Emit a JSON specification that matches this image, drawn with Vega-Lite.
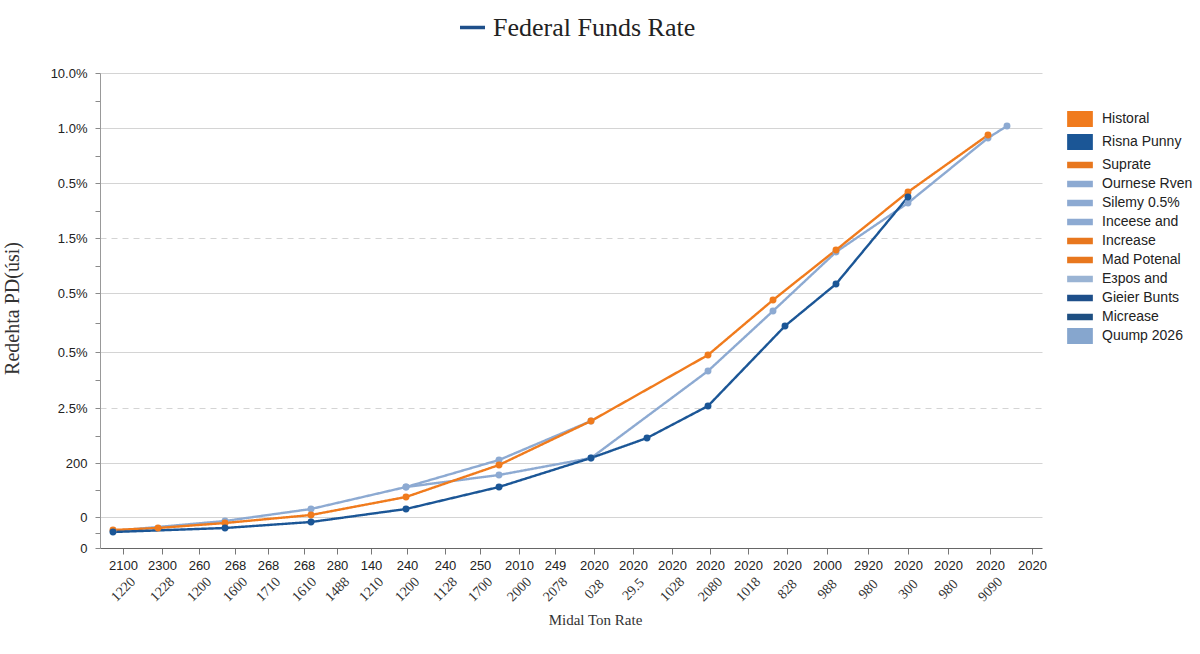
{
  "$schema": "https://vega.github.io/schema/vega-lite/v6.json",
  "width": 942,
  "height": 475,
  "autosize": "none",
  "padding": {"left": 100, "top": 73, "right": 158, "bottom": 106},
  "background": "white",
  "data": {
    "values": [
      {"series": "Ournese Rven", "x": 13, "y": 17},
      {"series": "Ournese Rven", "x": 125, "y": 27},
      {"series": "Ournese Rven", "x": 211, "y": 39},
      {"series": "Ournese Rven", "x": 306, "y": 61},
      {"series": "Ournese Rven", "x": 399, "y": 88},
      {"series": "Ournese Rven", "x": 491, "y": 127},
      {"series": "Silemy 0.5%", "x": 306, "y": 61},
      {"series": "Silemy 0.5%", "x": 399, "y": 73},
      {"series": "Silemy 0.5%", "x": 491, "y": 90},
      {"series": "Silemy 0.5%", "x": 608, "y": 177},
      {"series": "Silemy 0.5%", "x": 673, "y": 237},
      {"series": "Silemy 0.5%", "x": 736, "y": 296},
      {"series": "Silemy 0.5%", "x": 808, "y": 345},
      {"series": "Silemy 0.5%", "x": 888, "y": 410},
      {"series": "Silemy 0.5%", "x": 907, "y": 422},
      {"series": "Historal", "x": 13, "y": 18},
      {"series": "Historal", "x": 58, "y": 20},
      {"series": "Historal", "x": 125, "y": 25},
      {"series": "Historal", "x": 211, "y": 33},
      {"series": "Historal", "x": 306, "y": 51},
      {"series": "Historal", "x": 399, "y": 83},
      {"series": "Historal", "x": 491, "y": 127},
      {"series": "Historal", "x": 608, "y": 193},
      {"series": "Historal", "x": 673, "y": 248},
      {"series": "Historal", "x": 736, "y": 298},
      {"series": "Historal", "x": 808, "y": 356},
      {"series": "Historal", "x": 888, "y": 413},
      {"series": "Risna Punny", "x": 13, "y": 16},
      {"series": "Risna Punny", "x": 125, "y": 20},
      {"series": "Risna Punny", "x": 211, "y": 26},
      {"series": "Risna Punny", "x": 306, "y": 39},
      {"series": "Risna Punny", "x": 399, "y": 61},
      {"series": "Risna Punny", "x": 491, "y": 90},
      {"series": "Risna Punny", "x": 547, "y": 110},
      {"series": "Risna Punny", "x": 608, "y": 142},
      {"series": "Risna Punny", "x": 685, "y": 222},
      {"series": "Risna Punny", "x": 736, "y": 264},
      {"series": "Risna Punny", "x": 808, "y": 351}
    ]
  },
  "encoding": {
    "y": {
      "field": "y",
      "type": "quantitative",
      "scale": {"domain": [0, 475], "nice": false, "zero": false},
      "axis": {
        "values": [0, 15, 31, 58, 85, 112, 140, 168, 196, 225, 255, 282, 310, 337, 365, 392, 420, 447, 475],
        "labelExpr": "indexof([0,31,85,140,196,255,310,365,420,475], datum.value) < 0 ? '' : ['0','0','200','2.5%','0.5%','0.5%','1.5%','0.5%','1.0%','10.0%'][indexof([0,31,85,140,196,255,310,365,420,475], datum.value)]",
        "grid": true,
        "gridColor": "#d4d4d4",
        "gridOpacity": {"condition": {"test": "indexof([31,85,140,196,255,310,365,420,475], datum.value) < 0", "value": 0}, "value": 1},
        "gridDash": {"condition": {"test": "datum.value == 140 || datum.value == 310", "value": [6, 5]}, "value": []},
        "tickSize": 5,
        "tickColor": "#8a8a8a",
        "domainColor": "#999999",
        "labelPadding": 8,
        "labelOverlap": false,
        "labelBound": false,
        "title": "Redehta PD(úsi)",
        "titleX": -88,
        "titleY": 235,
        "titleAngle": -90,
        "titleAlign": "center",
        "titleBaseline": "middle",
        "titleFontSize": 20
      }
    },
    "color": {
      "field": "series",
      "type": "nominal",
      "scale": {
        "domain": ["Historal", "Risna Punny", "Suprate", "Ournese Rven", "Silemy 0.5%", "Inceese and", "Increase", "Mad Potenal", "Eзpos and", "Gieier Bunts", "Micrease", "Quump 2026"],
        "range": ["#F07B1D", "#1B5696", "#E8771E", "#8DAAD2", "#8DAAD2", "#8DAAD2", "#E8771E", "#E8771E", "#9AB4D4", "#1E4F8A", "#1E4F82", "#86A6CE"]
      },
      "legend": {
        "title": null,
        "orient": "none",
        "legendX": 968,
        "legendY": 34,
        "labelFont": "Liberation Sans",
        "labelFontSize": 14,
        "labelColor": "#222222",
        "symbolSize": 484,
        "rowPadding": 0,
        "labelOffset": 10,
        "encode": {
          "symbols": {
            "update": {
              "shape": {"signal": "indexof(['Historal','Risna Punny','Quump 2026'], datum.value) >= 0 ? 'M-1.1,-0.65H1.1V0.65H-1.1Z' : 'M-1.1,-0.22H1.1V0.22H-1.1Z'"},
              "fill": {"scale": "color", "field": "value"},
              "stroke": {"value": "transparent"},
              "opacity": {"value": 1}
            }
          }
        }
      }
    }
  },
  "layer": [
    {
      "mark": {"type": "line", "strokeWidth": 2.4},
      "encoding": {
        "x": {
          "field": "x",
          "type": "quantitative",
          "scale": {"domain": [0, 942], "nice": false, "zero": false},
          "axis": {
            "orient": "bottom",
            "values": [23, 62, 99, 135, 168, 204, 237, 271, 307, 345, 380, 419, 455, 494, 533, 572, 610, 648, 687, 727, 768, 808, 848, 890, 932],
            "labelExpr": "['2100','2300','260','268','268','268','280','140','240','240','250','2010','249','2020','2020','2020','2020','2020','2020','2000','2920','2020','2020','2020','2020'][indexof([23,62,99,135,168,204,237,271,307,345,380,419,455,494,533,572,610,648,687,727,768,808,848,890,932], datum.value)]",
            "grid": false,
            "tickSize": 6,
            "tickColor": "#777777",
            "domainColor": "#666666",
            "domainWidth": 1.2,
            "labelPadding": 5,
            "labelOverlap": false,
            "labelFlush": false,
            "labelBound": false,
            "title": null
          }
        },
        "strokeDash": {
          "datum": "Federal Funds Rate",
          "type": "nominal",
          "scale": {"range": [[1, 0]]},
          "legend": {
            "title": null,
            "orient": "none",
            "legendX": 358,
            "legendY": -60,
            "labelFont": "Liberation Serif",
            "labelFontSize": 26,
            "labelColor": "#222222",
            "labelLimit": 400,
            "symbolType": "stroke",
            "symbolStrokeColor": "#1E4F8A",
            "symbolStrokeWidth": 3.5,
            "symbolSize": 625,
            "labelOffset": 6
          }
        }
      }
    },
    {
      "mark": {"type": "point", "filled": true, "size": 48, "opacity": 1},
      "encoding": {
        "x": {
          "field": "x",
          "type": "quantitative",
          "axis": {
            "orient": "bottom",
            "values": [23, 62, 99, 135, 168, 204, 237, 271, 307, 345, 380, 419, 455, 494, 533, 572, 610, 648, 687, 727, 768, 808, 848, 890],
            "labelExpr": "['1220','1228','1200','1600','1710','1610','1488','1210','1200','1128','1700','2000','2078','028','29.5','1028','2080','1018','828','988','980','300','980','9090'][indexof([23,62,99,135,168,204,237,271,307,345,380,419,455,494,533,572,610,648,687,727,768,808,848,890], datum.value)]",
            "grid": false,
            "ticks": false,
            "domain": false,
            "labelAngle": -45,
            "labelAlign": "center",
            "labelBaseline": "middle",
            "labelPadding": 41,
            "labelFont": "Liberation Serif",
            "labelFontSize": 14,
            "labelColor": "#333333",
            "labelOverlap": false,
            "labelFlush": false,
            "labelBound": false,
            "title": "Midal Ton Rate",
            "titleX": 495,
            "titleY": 71,
            "titleBaseline": "middle",
            "titleFontSize": 15
          }
        }
      }
    }
  ],
  "resolve": {"axis": {"x": "independent"}},
  "config": {
    "view": {"stroke": null},
    "axis": {
      "labelFont": "Liberation Sans",
      "labelFontSize": 13,
      "labelColor": "#222222",
      "titleFont": "Liberation Serif",
      "titleColor": "#333333",
      "titleFontWeight": "normal"
    }
  }
}
